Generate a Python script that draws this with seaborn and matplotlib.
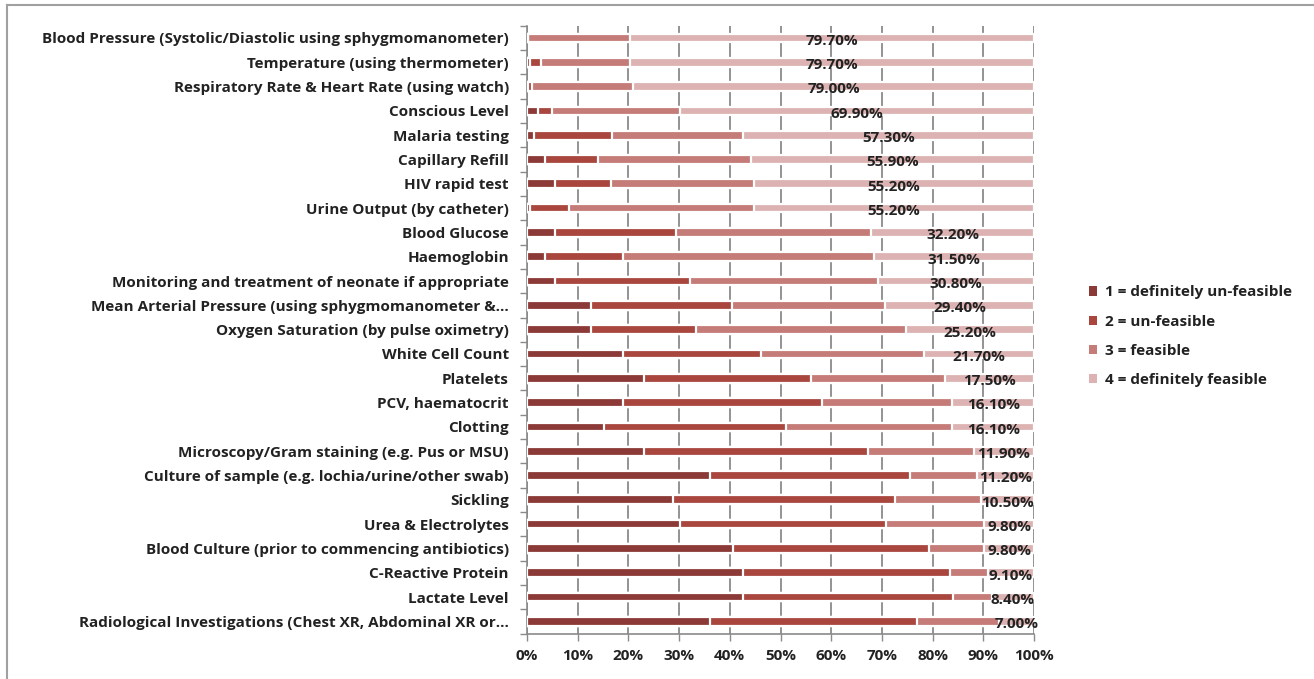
import numpy as np
import pandas as pd
import matplotlib
matplotlib.use("Agg")
import matplotlib.pyplot as plt
from matplotlib.patches import Patch
from matplotlib.lines import Line2D
from matplotlib.ticker import MultipleLocator, FixedLocator, PercentFormatter
import seaborn as sns

# ---- data (percent of respondents per rating) ----
items = [
    "Blood Pressure (Systolic/Diastolic using sphygmomanometer)",
    "Temperature (using thermometer)",
    "Respiratory Rate & Heart Rate (using watch)",
    "Conscious Level",
    "Malaria testing",
    "Capillary Refill",
    "HIV rapid test",
    "Urine Output (by catheter)",
    "Blood Glucose",
    "Haemoglobin",
    "Monitoring and treatment of neonate if appropriate",
    "Mean Arterial Pressure (using sphygmomanometer &...",
    "Oxygen Saturation (by pulse oximetry)",
    "White Cell Count",
    "Platelets",
    "PCV, haematocrit",
    "Clotting",
    "Microscopy/Gram staining (e.g. Pus or MSU)",
    "Culture of sample (e.g. lochia/urine/other swab)",
    "Sickling",
    "Urea & Electrolytes",
    "Blood Culture (prior to commencing antibiotics)",
    "C-Reactive Protein",
    "Lactate Level",
    "Radiological Investigations (Chest XR, Abdominal XR or...",
]
def_unfeasible = [0.3, 0.7, 0.3, 2.1, 1.4, 3.5, 5.5, 0.7, 5.5, 3.5, 5.5, 12.6, 12.6,
                  19.0, 23.1, 19.0, 15.2, 23.1, 36.0, 28.8, 30.2, 40.6, 42.7, 42.7, 36.0]
unfeasible = [0.0, 2.1, 0.7, 2.8, 15.4, 10.5, 11.0, 7.5, 23.8, 15.5, 26.6, 27.9, 20.8,
              27.2, 32.9, 39.2, 35.8, 44.1, 39.6, 43.8, 40.5, 38.6, 40.8, 41.4, 40.9]
feasible = [20.0, 17.5, 20.0, 25.2, 25.9, 30.1, 28.3, 36.6, 38.5, 49.5, 37.1, 30.1, 41.4,
            32.1, 26.5, 25.7, 32.9, 20.9, 13.2, 16.9, 19.5, 11.0, 7.4, 7.5, 16.1]
def_feasible = [79.7, 79.7, 79.0, 69.9, 57.3, 55.9, 55.2, 55.2, 32.2, 31.5, 30.8, 29.4, 25.2,
                21.7, 17.5, 16.1, 16.1, 11.9, 11.2, 10.5, 9.8, 9.8, 9.1, 8.4, 7.0]

legend_labels = ["1 = definitely un-feasible", "2 = un-feasible",
                 "3 = feasible", "4 = definitely feasible"]
colors = ["#8c3a37", "#a9473f", "#c57b78", "#dcb3b2"]

df = pd.DataFrame({"item": items, "s1": def_unfeasible, "s2": unfeasible,
                   "s3": feasible, "s4": def_feasible})
df["c1"] = df["s1"]
df["c2"] = df["c1"] + df["s2"]
df["c3"] = df["c2"] + df["s3"]
df["c4"] = df["c3"] + df["s4"]

plt.rcParams["font.family"] = ["Open Sans", "DejaVu Sans"]
FS = 11
fig = plt.figure(figsize=(13.14, 6.79), dpi=100)
ax = fig.add_axes([0.401, 0.067, 0.386, 0.895])

# stacked bars: draw cumulative totals from the back to the front
for col, c in zip(["c4", "c3", "c2", "c1"], colors[::-1]):
    sns.barplot(data=df, y="item", x=col, orient="h", color=c, width=0.36,
                saturation=1, edgecolor="white", linewidth=1.6, ax=ax, zorder=3)

# value labels for "definitely feasible"
for i, row in df.iterrows():
    ax.text((row["c3"] + row["c4"]) / 2, i + 0.12, f"{row['s4']:.2f}%",
            ha="center", va="center", fontsize=FS, fontweight="bold",
            color="#222222", zorder=5)

ax.set_xlim(0, 100)
ax.set_ylim(len(items) - 0.5, -0.5)
ax.xaxis.set_major_locator(MultipleLocator(10))
ax.xaxis.set_major_formatter(PercentFormatter(decimals=0))
ax.set_xlabel("")
ax.set_ylabel("")
ax.yaxis.set_minor_locator(FixedLocator(np.arange(-0.5, len(items), 1)))
ax.tick_params(axis="y", which="major", length=0, pad=13, labelsize=FS)
ax.tick_params(axis="y", which="minor", length=5, color="#8a8a8a", width=1)
ax.tick_params(axis="x", length=5, color="#8a8a8a", width=1, labelsize=FS, pad=6)
for lbl in ax.get_yticklabels() + ax.get_xticklabels():
    lbl.set_fontweight("bold")
    lbl.set_color("#222222")
for s in ["top", "right"]:
    ax.spines[s].set_visible(False)
for s in ["left", "bottom"]:
    ax.spines[s].set_color("#8a8a8a")
    ax.spines[s].set_linewidth(1.2)

handles = [Patch(facecolor=c, edgecolor="none") for c in colors]
leg = fig.legend(handles, legend_labels, loc="upper left", bbox_to_anchor=(0.818, 0.6),
                 frameon=False, handlelength=0.55, handleheight=0.55, handletextpad=0.5,
                 labelspacing=1.0, prop={"weight": "bold", "size": FS})
for t in leg.get_texts():
    t.set_color("#222222")

# outer chart frame (only top / left edges are visible in the crop)
fig.add_artist(Line2D([0.0055, 1.0], [0.992, 0.992], transform=fig.transFigure,
                      color="#a0a0a0", linewidth=1.5))
fig.add_artist(Line2D([0.0055, 0.0055], [0.0, 0.992], transform=fig.transFigure,
                      color="#a0a0a0", linewidth=1.5))

# vertical gridlines, added last, sitting just under the bars
for xv in ax.get_xticks():
    if 0 <= xv <= 100:
        ax.axvline(xv, color="#8a8a8a", linewidth=1.3, zorder=2.5)

fig.savefig("out.png", dpi=100)
